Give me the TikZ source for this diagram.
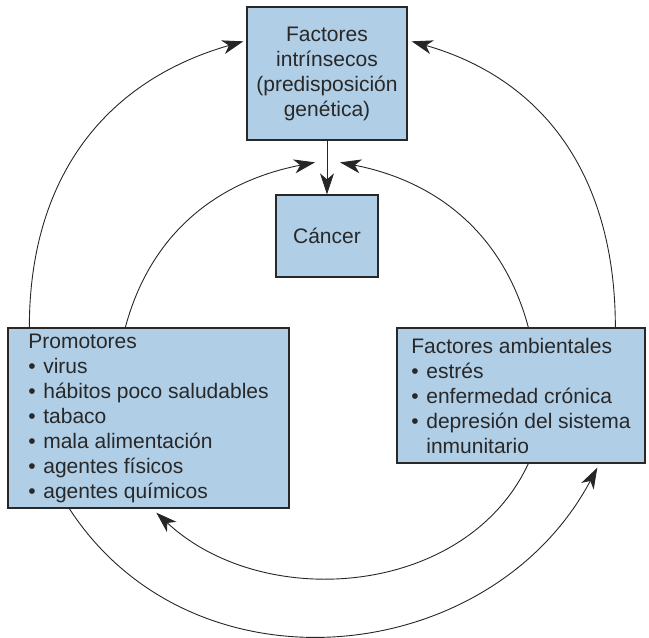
\documentclass[tikz,border=0pt]{standalone}
\usepackage{fontspec}
\setmainfont{Liberation Sans}
\usetikzlibrary{arrows.meta, calc}

\definecolor{boxblue}{RGB}{176,206,230}
\definecolor{ink}{RGB}{40,40,40}
\newcommand{\itm}{\makebox[15pt][l]{\textbullet}}

\begin{document}
\begin{tikzpicture}[x=1pt, y=1pt,
  every node/.style={font={\fontsize{21}{25}\selectfont}, text=ink},
  box/.style={draw=ink, line width=1.3pt, fill=boxblue, align=center, inner sep=0pt},
  lbox/.style={box, align=left},
  arr/.style={-{Stealth[length=21pt, width=14pt, inset=6pt]}, line width=0.9pt, draw=black!85},
]
\useasboundingbox (0,0) rectangle (649,-638);

% --- top: intrinsic factors and cancer
\node[box, minimum width=160, minimum height=133] (intr) at (327,-73.5)
  {Factores\\intrínsecos\\(predisposición\\genética)};
\node[box, minimum width=102, minimum height=82] (canc) at (327,-236) {Cáncer};
\draw[arr] (intr.south) -- (canc.north);

% --- bottom: promoters and environment
\node[lbox, minimum width=281, minimum height=180] (prom) at (148.5,-418)
  {Promotores\\\itm virus\\\itm hábitos poco saludables\\\itm tabaco\\
   \itm mala alimentación\\\itm agentes físicos\\\itm agentes químicos};
\node[lbox, minimum width=248, minimum height=135] (amb) at (521,-395.5)
  {Factores ambientales\\\itm estrés\\\itm enfermedad crónica\\
   \itm depresión del sistema\\\hspace*{15pt}inmunitario};

% --- arc ends
\coordinate (pl1) at ($(prom.north west)+(22,0)$);
\coordinate (pl2) at ($(prom.north west)+(118,0)$);
\coordinate (ar1) at ($(amb.north west)+(219,0)$);
\coordinate (ar2) at ($(amb.north west)+(132,0)$);
\coordinate (tl1) at ($(intr.north west)+(-3,-35)$);
\coordinate (tr1) at ($(intr.north east)+(4,-35)$);
\coordinate (cl) at ($(canc.north)+(-12,32)$);
\coordinate (cr) at ($(canc.north)+(13,32)$);
\coordinate (ab1) at ($(amb.south west)+(132,0)$);
\coordinate (ab2) at ($(amb.south west)+(201,-4)$);
\coordinate (pb1) at ($(prom.south west)+(62,0)$);
\coordinate (pb2) at ($(prom.south west)+(149,-4)$);

% --- upward arcs
\draw[arr] (pl1) to[out=90, in=196, looseness=1.05] (tl1);
\draw[arr] (ar1) to[out=90, in=-16, looseness=1.05] (tr1);
\draw[arr] (pl2) to[out=75, in=191] (cl);
\draw[arr] (ar2) to[out=105, in=-11] (cr);

% --- lower arcs
\draw[arr] (ab1) to[out=-115, in=-43] (pb2);
\draw[arr] (pb1) to[out=-57, in=-118, looseness=1.1] (ab2);
\end{tikzpicture}
\end{document}
